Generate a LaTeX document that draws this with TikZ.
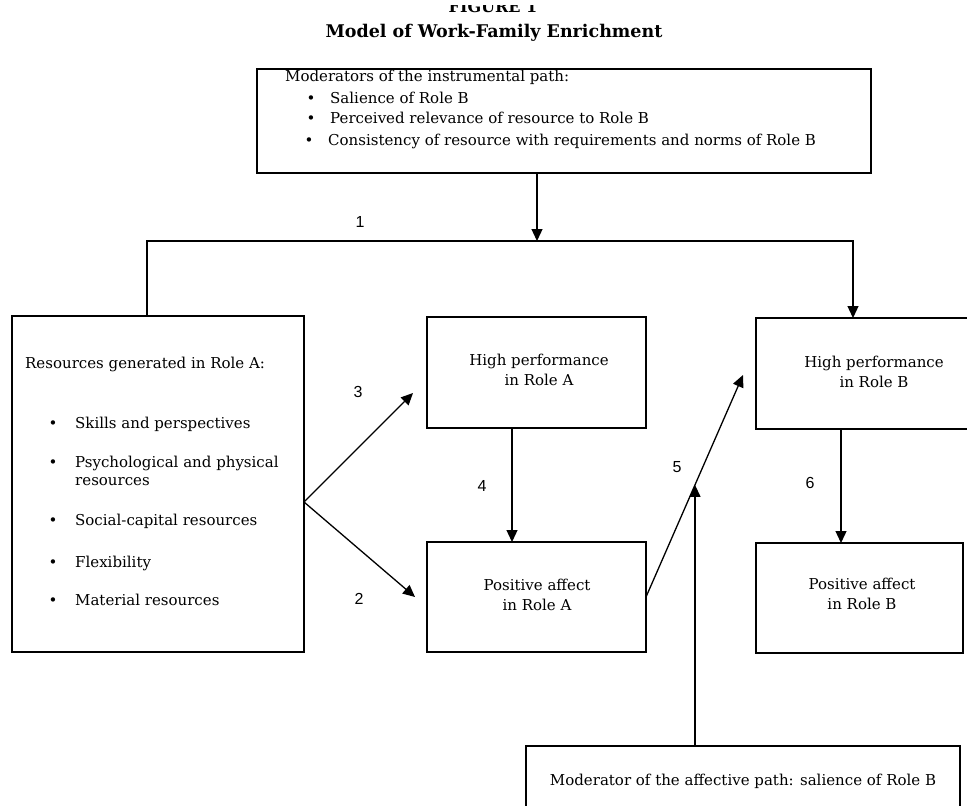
\documentclass[tikz,border=0pt]{standalone}
\usepackage{fontspec}
\setmainfont{DejaVu Serif}
\newfontfamily\numfont{Liberation Sans}
\usetikzlibrary{arrows.meta,calc}
\begin{document}
\begin{tikzpicture}[x=1pt,y=-1pt,
  box/.style={draw, line width=1.3pt, inner sep=0pt, outer sep=0pt, rectangle},
  txt/.style={font=\fontsize{15}{20}\selectfont, inner sep=0pt, anchor=base west},
  ctxt/.style={font=\fontsize{15}{20}\selectfont, inner sep=0pt, align=center},
  num/.style={font=\numfont\fontsize{16}{18}\selectfont, inner sep=0pt},
  conn/.style={line width=1.3pt},
  arr/.style={conn, -{Triangle[length=12pt,width=11pt]}}
]
\useasboundingbox (0,0) rectangle (967,806);
\clip (0,0) rectangle (967,806);

% titles (the first line is cut off at the top, as in the reference)
\begin{scope}
\clip (0,5) rectangle (967,20);
\node[font=\bfseries\fontsize{16}{18}\selectfont, anchor=base, inner sep=0pt] (fig) at (493,12) {FIGURE 1};
\end{scope}
\node[font=\bfseries\fontsize{17.5}{20}\selectfont, anchor=base, inner sep=0pt] (title) at (494,37) {Model of Work-Family Enrichment};

% boxes
\node[box, minimum width=614pt, minimum height=104pt] (mod) at (564,121) {};
\node[box, minimum width=292pt, minimum height=336pt] (res) at (158,484) {};
\node[box, minimum width=219pt, minimum height=111pt] (hpA) at (536.5,372.5) {};
\node[box, minimum width=219pt, minimum height=110pt] (paA) at (536.5,597) {};
\node[box, minimum width=236pt, minimum height=111pt] (hpB) at (874,373.5) {};
\node[box, minimum width=207pt, minimum height=110pt] (paB) at (859.5,598) {};
\node[box, minimum width=434pt, minimum height=69pt] (modB) at (743,780.5) {};

% top box text
\node[txt] (m0) at (285,81) {Moderators of the instrumental path:};
\node[txt] (m1) at (306.5,103) {\makebox[23.5pt][l]{•}Salience of Role B};
\node[txt] (m2) at (306.5,123) {\makebox[23.5pt][l]{•}Perceived relevance of resource to Role B};
\node[txt] (m3) at (304.5,145) {\makebox[23.5pt][l]{•}Consistency of resource with requirements and norms of Role B};

% left box text
\node[txt] (r0) at (25,368) {Resources generated in Role A:};
\node[txt] (r1) at (48.5,428) {\makebox[26.5pt][l]{•}Skills and perspectives};
\node[txt] (r2) at (48.5,467) {\makebox[26.5pt][l]{•}Psychological and physical};
\node[txt] (r2b) at (75,485) {resources};
\node[txt] (r3) at (48.5,525) {\makebox[26.5pt][l]{•}Social-capital resources};
\node[txt] (r4) at (48.5,567) {\makebox[26.5pt][l]{•}Flexibility};
\node[txt] (r5) at (48.5,605) {\makebox[26.5pt][l]{•}Material resources};

% box texts
\node[ctxt] (hpAt) at (539,370) {High performance\\in Role A};
\node[ctxt] (paAt) at (537,595) {Positive affect\\in Role A};
\node[ctxt] (hpBt) at (874,372) {High performance\\in Role B};
\node[ctxt] (paBt) at (862,594) {Positive affect\\in Role B};
\node[font=\fontsize{15}{20}\selectfont, inner sep=0pt, anchor=base] (modBt) at (743,785) {Moderator of the affective path: salience of Role B};

% path numbers
\node[num] (n1) at (360,222) {1};
\node[num] (n3) at (358,392) {3};
\node[num] (n2) at (359,599) {2};
\node[num] (n4) at (482,486) {4};
\node[num] (n5) at (677,467) {5};
\node[num] (n6) at (810,483) {6};

% connectors
\coordinate (split) at (537,241);
\coordinate (lc) at (147,241);
\coordinate (rc) at (853,241);
\coordinate (fork) at (304,502);
\coordinate (t3) at (413,393);
\coordinate (t2) at (415,597);
\coordinate (t5) at (743,375);

\draw[arr] (mod.south -| split) -- (split);
\draw[arr] (res.north -| lc) -- (lc) -- (rc) -- (hpB.north -| rc);
\draw[arr] (fork) -- (t3);
\draw[arr] (fork) -- (t2);
\draw[arr] ([xshift=-24.5pt]hpA.south) -- ([xshift=-24.5pt]paA.north);
\draw[arr] ([xshift=-33pt]hpB.south) -- ([xshift=-33pt]hpB.south |- paB.north);
\draw[arr] (paA.east) -- (t5);
\coordinate (m5) at ($(paA.east)!0.505!(t5)$);
\draw[arr] (modB.north -| m5) -- (m5);
\end{tikzpicture}
\end{document}
